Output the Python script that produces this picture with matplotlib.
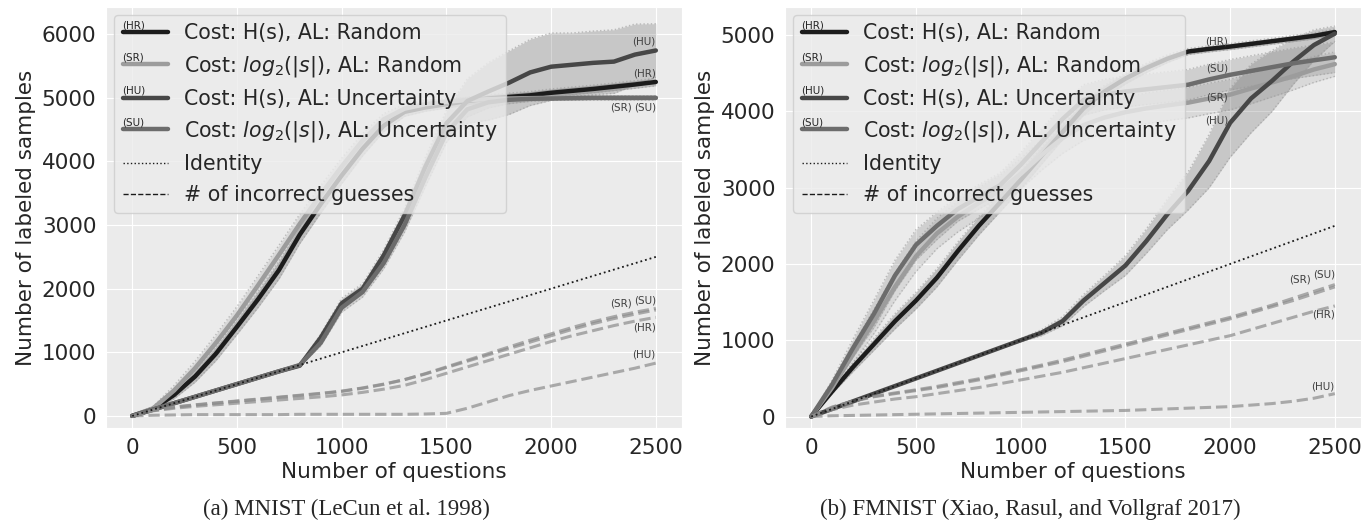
import numpy as np
import matplotlib
matplotlib.use("Agg")
import matplotlib.pyplot as plt
import seaborn as sns
from matplotlib.legend_handler import HandlerLine2D
from matplotlib.text import Text
from matplotlib.lines import Line2D

# questions asked (x grid shared by all curves)
questions = list(range(0, 2600, 100))

# ---- MNIST: number of labeled samples (mean and spread over runs)
mn_hr = [0, 110, 330, 620, 980, 1400, 1830, 2290, 2850, 3330, 3780, 4200, 4560, 4780, 4850, 4900,
         4950, 4990, 5015, 5040, 5080, 5110, 5140, 5175, 5210, 5250]
mn_sr = [0, 120, 400, 750, 1150, 1580, 2050, 2530, 3020, 3480, 3920, 4330, 4660, 4830, 4900, 4940,
         4965, 4980, 4990, 4995, 5000, 5000, 5000, 5000, 5000, 5000]
mn_hu = [0, 100, 200, 300, 400, 500, 600, 700, 790, 1230, 1770, 2000, 2520, 3150, 3920, 4600,
         4950, 5100, 5240, 5400, 5490, 5520, 5550, 5570, 5680, 5745]
mn_su = [0, 100, 200, 300, 400, 500, 600, 700, 800, 1150, 1700, 1950, 2400, 3000, 3750, 4450,
         4820, 4930, 4970, 4985, 4990, 4995, 5000, 5000, 5000, 5000]
mn_hr_sd = [0, 20, 60, 90, 110, 120, 130, 140, 140, 140, 130, 110, 90, 70, 60, 60, 60, 60, 60, 60,
            60, 60, 60, 60, 60, 60]
mn_sr_sd = [0, 30, 80, 110, 130, 140, 150, 150, 150, 140, 130, 110, 90, 70, 60, 50, 40, 40, 30, 30,
            30, 30, 30, 30, 30, 30]
mn_hu_sd = [0, 5, 5, 5, 5, 5, 5, 10, 20, 60, 80, 80, 90, 110, 150, 200, 350, 450, 500, 520, 530,
            500, 500, 500, 480, 420]
mn_su_sd = [0, 5, 5, 5, 5, 5, 5, 10, 20, 50, 70, 80, 90, 110, 140, 150, 120, 90, 60, 40, 30, 30,
            30, 30, 30, 30]

# MNIST: number of incorrect guesses
mn_hr_err = [0, 80, 120, 150, 175, 200, 225, 250, 275, 300, 330, 370, 420, 480, 570, 670, 770, 870,
             970, 1070, 1170, 1260, 1340, 1420, 1490, 1550]
mn_sr_err = [0, 90, 140, 175, 205, 235, 265, 295, 325, 355, 390, 440, 500, 570, 660, 760, 860, 960,
             1060, 1160, 1260, 1360, 1450, 1530, 1600, 1665]
mn_su_err = [0, 85, 135, 170, 200, 230, 260, 290, 320, 350, 385, 435, 495, 570, 665, 770, 875, 980,
             1085, 1190, 1290, 1390, 1480, 1560, 1630, 1690]
mn_hu_err = [0, 10, 15, 20, 20, 20, 20, 20, 25, 25, 25, 25, 25, 25, 30, 40, 120, 220, 320, 400, 470,
             540, 610, 680, 750, 830]

# ---- FMNIST
fm_hr = [0, 330, 650, 950, 1250, 1520, 1820, 2170, 2500, 2800, 3100, 3420, 3730, 4040, 4260, 4430,
         4570, 4690, 4785, 4820, 4850, 4885, 4920, 4955, 4990, 5040]
fm_sr = [0, 380, 820, 1250, 1700, 2100, 2400, 2620, 2800, 2960, 3180, 3430, 3650, 3820, 3920, 3990,
         4040, 4080, 4115, 4170, 4220, 4300, 4380, 4460, 4550, 4620]
fm_hu = [0, 100, 200, 300, 400, 500, 600, 700, 800, 900, 1000, 1100, 1250, 1520, 1750, 1980, 2300,
         2650, 2960, 3350, 3850, 4170, 4400, 4650, 4870, 5020]
fm_su = [0, 420, 900, 1350, 1850, 2250, 2500, 2720, 2880, 3030, 3300, 3600, 3900, 4150, 4220, 4260,
         4290, 4320, 4350, 4420, 4480, 4530, 4580, 4630, 4670, 4710]
fm_hr_sd = [0, 30, 60, 80, 100, 110, 120, 120, 120, 120, 120, 110, 100, 90, 80, 70, 60, 50, 40, 40,
            40, 40, 40, 40, 40, 40]
fm_sr_sd = [0, 60, 120, 160, 180, 200, 200, 200, 200, 200, 200, 200, 200, 200, 200, 200, 200, 200,
            200, 200, 200, 200, 190, 180, 170, 160]
fm_hu_sd = [0, 5, 5, 5, 5, 5, 5, 5, 5, 10, 20, 40, 60, 80, 100, 130, 160, 200, 250, 350, 450, 450,
            400, 300, 200, 100]
fm_su_sd = [0, 60, 120, 180, 200, 200, 180, 160, 160, 160, 160, 170, 180, 200, 200, 200, 200, 200,
            200, 200, 200, 200, 200, 200, 200, 200]

fm_sr_err = [0, 120, 200, 260, 300, 340, 380, 430, 480, 540, 600, 660, 720, 790, 860, 930, 1000,
             1070, 1140, 1210, 1280, 1360, 1440, 1520, 1610, 1700]
fm_su_err = [0, 125, 205, 265, 310, 350, 395, 445, 495, 555, 615, 675, 740, 810, 880, 950, 1020,
             1090, 1160, 1230, 1300, 1380, 1460, 1550, 1640, 1730]
fm_hr_err = [0, 90, 150, 190, 230, 260, 300, 340, 380, 430, 480, 530, 580, 640, 700, 760, 820, 880,
             940, 1000, 1060, 1140, 1220, 1300, 1380, 1450]
fm_hu_err = [0, 10, 15, 20, 25, 30, 35, 40, 45, 50, 55, 60, 65, 70, 75, 80, 90, 100, 110, 120, 130,
             150, 170, 200, 240, 300]

tags = ["(HR)", "(SR)", "(HU)", "(SU)"]
labels = ["Cost: H(s), AL: Random", r"Cost: $log_2(|s|)$, AL: Random",
          "Cost: H(s), AL: Uncertainty", r"Cost: $log_2(|s|)$, AL: Uncertainty"]
colors = ["#1c1c1c", "#9c9c9c", "#474747", "#6c6c6c"]

sns.set_style("darkgrid", {"axes.facecolor": "#EBEBEB"})
plt.rcParams['font.family'] = ['DejaVu Sans']
plt.rcParams['font.size'] = 15.5


class TagHandler(HandlerLine2D):
    def __init__(self, tag, **kw):
        super().__init__(**kw)
        self.tag = tag

    def create_artists(self, legend, orig_handle, xdescent, ydescent, width, height, fontsize, trans):
        arts = super().create_artists(legend, orig_handle, xdescent, ydescent, width, height,
                                      fontsize, trans)
        t = Text(-xdescent, height * 0.62, self.tag, fontsize=7.5, color="0.15",
                 va="bottom", ha="left", transform=trans)
        return arts + [t]


def draw(ax, means, sds, errs, tag_pos, err_tag_pos):
    x = np.array(questions)
    for m, sd, c in zip(means, sds, colors):
        m = np.array(m)
        sd = np.array(sd)
        ax.fill_between(x, m - sd, m + sd, color=c, alpha=0.22, lw=0)
        ax.plot(x, m - sd, ls=":", color="0.6", lw=1, alpha=0.6)
        ax.plot(x, m + sd, ls=":", color="0.6", lw=1, alpha=0.6)
    for m, c in zip(means, colors):
        ax.plot(x, m, color=c, lw=3.2)
    for e in errs:
        ax.plot(x, e, ls="--", color="0.55", lw=2.2, alpha=0.7)
    ax.plot([0, 2500], [0, 2500], ls=":", color="0.1", lw=1.3)
    for txt, (tx, ty, va) in zip(tags, tag_pos):
        ax.text(tx, ty, txt, fontsize=7.5, color="0.25", ha="right", va=va)
    for txt, (tx, ty, va) in zip(tags, err_tag_pos):
        ax.text(tx, ty, txt, fontsize=7.5, color="0.25", ha="right", va=va)

    handles = [Line2D([], [], color=c, lw=3.2) for c in colors]
    handles += [Line2D([], [], color="0.1", ls=":", lw=1),
                Line2D([], [], color="0.1", ls="--", lw=1)]
    hmap = {h: TagHandler(t) for h, t in zip(handles[:4], tags)}
    ax.legend(handles, labels + ["Identity", "# of incorrect guesses"], loc="upper left",
              handler_map=hmap, fontsize=14.8, handlelength=2.2, handletextpad=0.8,
              labelspacing=0.5, borderaxespad=0.4, framealpha=0.8)
    ax.set_xlim(-125, 2625)
    ax.set_xticks([0, 500, 1000, 1500, 2000, 2500])
    ax.set_xlabel("Number of questions", labelpad=3)
    ax.set_ylabel("Number of labeled samples")


fig = plt.figure(figsize=(13.72, 5.31), dpi=100)
ax1 = fig.add_axes([0.0773, 0.194, 0.4198, 0.793])
ax2 = fig.add_axes([0.5722, 0.194, 0.4198, 0.793])

draw(ax1, [mn_hr, mn_sr, mn_hu, mn_su], [mn_hr_sd, mn_sr_sd, mn_hu_sd, mn_su_sd],
     [mn_hr_err, mn_sr_err, mn_hu_err, mn_su_err],
     [(2500, 5300, "bottom"), (2385, 4920, "top"), (2500, 5800, "bottom"), (2500, 4920, "top")],
     [(2500, 1470, "top"), (2385, 1690, "bottom"), (2500, 880, "bottom"), (2500, 1740, "bottom")])
ax1.set_ylim(-190, 6430)

draw(ax2, [fm_hr, fm_sr, fm_hu, fm_su], [fm_hr_sd, fm_sr_sd, fm_hu_sd, fm_su_sd],
     [fm_hr_err, fm_sr_err, fm_hu_err, fm_su_err],
     [(1990, 4850, "bottom"), (1990, 4120, "bottom"), (1990, 3820, "bottom"), (1990, 4500, "bottom")],
     [(2500, 1400, "top"), (2385, 1730, "bottom"), (2500, 330, "bottom"), (2500, 1790, "bottom")])
ax2.set_ylim(-150, 5370)
ax2.set_yticks([0, 1000, 2000, 3000, 4000, 5000])

fig.text(0.2525, 0.04, "(a) MNIST (LeCun et al. 1998)", family="Liberation Serif", fontsize=16.5,
         ha="center", va="center")
fig.text(0.751, 0.04, "(b) FMNIST (Xiao, Rasul, and Vollgraf 2017)", family="Liberation Serif",
         fontsize=16.5, ha="center", va="center")

fig.savefig("out.png", dpi=100)
